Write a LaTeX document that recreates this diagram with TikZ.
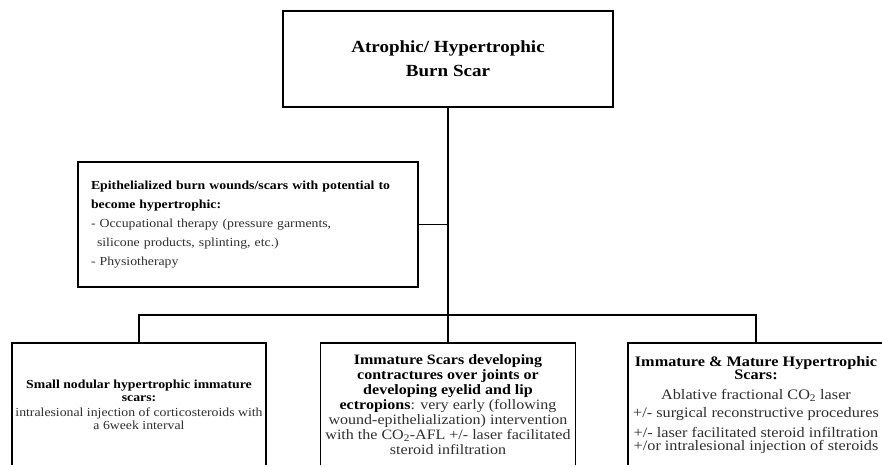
\documentclass[tikz,border=0pt]{standalone}
\usepackage{fontspec}
\setmainfont{Liberation Serif}[FakeStretch=1.12]
\usepackage{tikz}

\newcommand{\setsz}[2]{\fontsize{#1}{#2}\selectfont}
\newcommand{\hd}[1]{\textcolor{black}{\bfseries #1}}

\begin{document}
\begin{tikzpicture}[x=1pt, y=-1pt, line width=1.6pt,
  main/.style = {draw, inner sep=0pt, align=center, text=black!82},
  low/.style = {main, anchor=north, minimum height=124pt}]
\useasboundingbox (0,0) rectangle (882,466);
\clip (0,0) rectangle (882,464.5);

\node[main, minimum width=330pt, minimum height=96pt, font=\setsz{17}{24}] (1) at (448,59)
  {\hd{Atrophic/ Hypertrophic}\\ \hd{Burn Scar}};
\node[main, minimum width=340pt, minimum height=125pt, align=left, text width=314pt,
  font=\setsz{12.3}{19}] (2) at (248,224.5)
  {\hd{Epithelialized burn wounds/scars with potential to}\\
   \hd{become hypertrophic:}\\
   - Occupational therapy (pressure garments,\\
   \hspace*{6pt}silicone products, splinting, etc.)\\
   - Physiotherapy};

\node[low, minimum width=254pt, font=\setsz{12.3}{13}] (3) at (139,342)
  {\hd{Small nodular hypertrophic immature}\\ \hd{scars:}\\[2pt]
   intralesional injection of corticosteroids with\\ a 6week interval};
\node[low, minimum width=255pt, font=\setsz{14.3}{15}] (4) at (448,342)
  {\hd{Immature Scars developing}\\ \hd{contractures over joints or}\\
   \hd{developing eyelid and lip}\\ \hd{ectropions}: very early (following\\
   wound-epithelialization) intervention\\
   with the CO\textsubscript{2}-AFL +/- laser facilitated\\ steroid infiltration};
\node[low, minimum width=256pt, font=\setsz{14.5}{13}] (5) at (756,342)
  {\hd{Immature \& Mature Hypertrophic}\\ \hd{Scars:}\\[7pt]
   Ablative fractional CO\textsubscript{2} laser\\[5pt]
   +/- surgical reconstructive procedures\\[6pt]
   +/- laser facilitated steroid infiltration\\
   +/or intralesional injection of steroids};

\coordinate (bus) at (448,315);
\draw (1) -- (4);
\draw (2) -- (2.east -| 1.south);
\draw (3) |- (bus) -| (5);
\end{tikzpicture}
\end{document}
